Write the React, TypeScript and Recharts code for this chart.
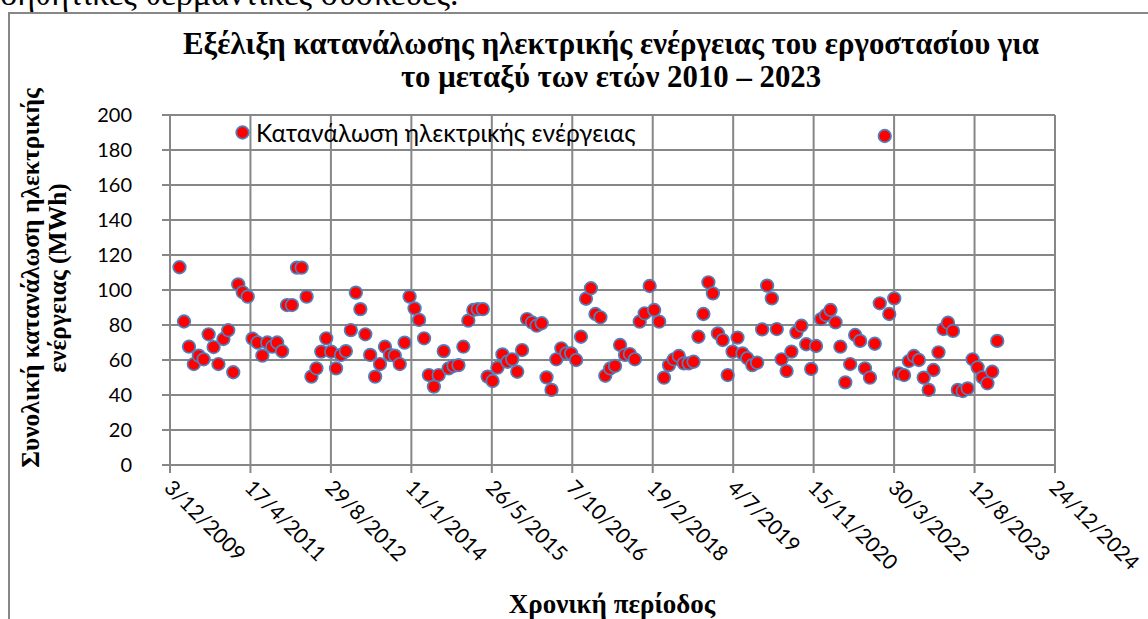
import React from 'react';
import { ScatterChart, Scatter, XAxis, YAxis, CartesianGrid } from 'recharts';

const START_YEAR = 2010;
// Monthly electricity consumption (MWh), Jan 2010 .. Dec 2023
const consumption: number[] = [
  113, 82, 67.6, 57.7, 62.5, 60.4, 74.7, 67.4, 57.7, 72, 77, 53,
  103.2, 98.7, 96.2, 72.2, 70, 62.5, 70, 67.6, 70, 65, 91.4, 91.4,
  112.8, 112.8, 96.2, 50.5, 55.2, 64.8, 72.4, 64.8, 55.2, 62.9, 65.1, 77.1,
  98.5, 89.1, 74.7, 62.9, 50.5, 57.7, 67.6, 62.9, 62.5, 57.7, 69.9, 96.2,
  89.5, 82.9, 72.4, 51.4, 44.8, 51.4, 65.1, 55.2, 56.6, 57.1, 67.6, 82.5,
  88.6, 89.1, 89.1, 50.5, 48, 55.6, 63.2, 59, 60.4, 53.3, 65.7, 83.4,
  81.5, 79.6, 81, 50.1, 42.9, 60.4, 66.7, 63.8, 63.8, 60, 73.3, 95,
  101, 86.3, 84.4, 51, 55.2, 56.6, 68.6, 62.9, 63.4, 60.4, 81.9, 86.7,
  102.3, 88.6, 81.9, 49.9, 57.1, 60.4, 62.3, 58.1, 58.1, 59, 73.3, 86.3,
  104.4, 98.1, 75.2, 71.4, 51.4, 64.8, 72.8, 63.8, 61, 57.1, 58.5, 77.5,
  102.5, 95.2, 77.7, 60.4, 53.7, 64.8, 75.8, 79.6, 69, 54.9, 68, 83.4,
  85.7, 88.6, 81.5, 67.6, 47.2, 57.7, 74.3, 70.9, 55.2, 49.9, 69.3, 92.4,
  188, 86.3, 95.2, 52.4, 51.4, 59.4, 62.3, 60, 49.9, 42.9, 54.3, 64.4,
  77.7, 81.3, 76.6, 42.9, 42.3, 43.8, 60.4, 55.8, 50.1, 46.7, 53.3, 70.9,
];

const xTickLabels: string[] = [
  '3/12/2009', '17/4/2011', '29/8/2012', '11/1/2014', '26/5/2015', '7/10/2016',
  '19/2/2018', '4/7/2019', '15/11/2020', '30/3/2022', '12/8/2023', '24/12/2024',
];
const yTicks: number[] = [0, 20, 40, 60, 80, 100, 120, 140, 160, 180, 200];

const DAY = 86400000;
const parseLabel = (s: string) => {
  const [d, m, y] = s.split('/').map(Number);
  return Date.UTC(y, m - 1, d) / DAY;
};
const xTicks = xTickLabels.map(parseLabel);
const labelByDay: Record<number, string> = {};
xTickLabels.forEach((l, i) => (labelByDay[xTicks[i]] = l));

const data = consumption.map((v, i) => {
  const year = START_YEAR + Math.floor(i / 12);
  const month = i % 12;
  return { x: Date.UTC(year, month + 1, 0) / DAY, y: v };
});

const GRID = '#878787';
const TICK_FONT = 'Lato, "Open Sans", sans-serif';
const SERIF = '"Liberation Serif", "Times New Roman", serif';

const Dot = (props: any) => {
  const { cx, cy } = props;
  if (cx == null || cy == null) return null;
  return <circle cx={cx} cy={cy} r={6.3} fill="#FF0000" stroke="#4F81BD" strokeWidth={1.7} />;
};

const XTick = (props: any) => {
  const { x, y, payload } = props;
  return (
    <g transform={`translate(${x - 7},${y + 16})`}>
      <text transform="rotate(45)" x={0} y={0} textAnchor="start" fontFamily={TICK_FONT} fontSize={21} fill="#000">
        {labelByDay[payload.value] ?? ''}
      </text>
    </g>
  );
};

export default function App() {
  return (
    <div style={{ position: 'fixed', left: 0, top: 0, width: 1148, height: 619, overflow: 'hidden', background: '#fff' }}>
      <div
        style={{
          position: 'absolute', left: -17, top: -23, fontFamily: SERIF, fontSize: 34, lineHeight: 1,
          whiteSpace: 'nowrap', color: '#000',
        }}
      >
        βοηθητικές θερμαντικές συσκευές.
      </div>
      <div
        style={{
          position: 'absolute', left: 8, top: 12, width: 1300, height: 800,
          borderLeft: `2px solid ${GRID}`, borderTop: `2px solid ${GRID}`, boxSizing: 'border-box',
        }}
      />
      <div style={{ position: 'absolute', left: 0, top: 0 }}>
        <ScatterChart width={1148} height={619} margin={{ top: 115, right: 93, bottom: 0, left: 0 }}>
          <CartesianGrid stroke={GRID} strokeWidth={2} />
          <XAxis
            type="number"
            dataKey="x"
            domain={[xTicks[0], xTicks[xTicks.length - 1]]}
            ticks={xTicks}
            interval={0}
            allowDataOverflow
            height={154}
            tickSize={8}
            tickMargin={0}
            stroke={GRID}
            strokeWidth={2}
            tick={<XTick />}
          />
          <YAxis
            type="number"
            dataKey="y"
            domain={[0, 200]}
            ticks={yTicks}
            interval={0}
            width={170}
            tickSize={8}
            tickMargin={30}
            stroke={GRID}
            strokeWidth={2}
            tick={{ fontFamily: TICK_FONT, fontSize: 20, fill: '#000' }}
          />
          <Scatter data={data} shape={Dot} isAnimationActive={false} />
        </ScatterChart>
      </div>
      <div
        style={{
          position: 'absolute', left: 611, top: 61, transform: 'translate(-50%, -50%)', textAlign: 'center',
          fontFamily: SERIF, fontWeight: 'bold', fontSize: 30.8, lineHeight: '33px', whiteSpace: 'nowrap', color: '#000',
        }}
      >
        Εξέλιξη κατανάλωσης ηλεκτρικής ενέργειας του εργοστασίου για
        <br />
        το μεταξύ των ετών 2010 – 2023
      </div>
      <div
        style={{
          position: 'absolute', left: 44, top: 278, transform: 'translate(-50%, -50%) rotate(-90deg)', textAlign: 'center',
          fontFamily: SERIF, fontWeight: 'bold', fontSize: 25.5, lineHeight: '27px', whiteSpace: 'nowrap', color: '#000',
        }}
      >
        Συνολική κατανάλωση ηλεκτρικής
        <br />
        ενέργειας (MWh)
      </div>
      <div
        style={{
          position: 'absolute', left: 612, top: 604, transform: 'translate(-50%, -50%)',
          fontFamily: SERIF, fontWeight: 'bold', fontSize: 27, lineHeight: 1, whiteSpace: 'nowrap', color: '#000',
        }}
      >
        Χρονική περίοδος
      </div>
      <div style={{ position: 'absolute', left: 235, top: 119, display: 'flex', alignItems: 'center', height: 26 }}>
        <svg width={15} height={15} style={{ display: 'block' }}>
          <circle cx={7.5} cy={7.5} r={6.3} fill="#FF0000" stroke="#4F81BD" strokeWidth={1.7} />
        </svg>
        <span style={{ marginLeft: 6, fontFamily: TICK_FONT, fontSize: 24.5, color: '#000', whiteSpace: 'nowrap' }}>
          Κατανάλωση ηλεκτρικής ενέργειας
        </span>
      </div>
    </div>
  );
}
